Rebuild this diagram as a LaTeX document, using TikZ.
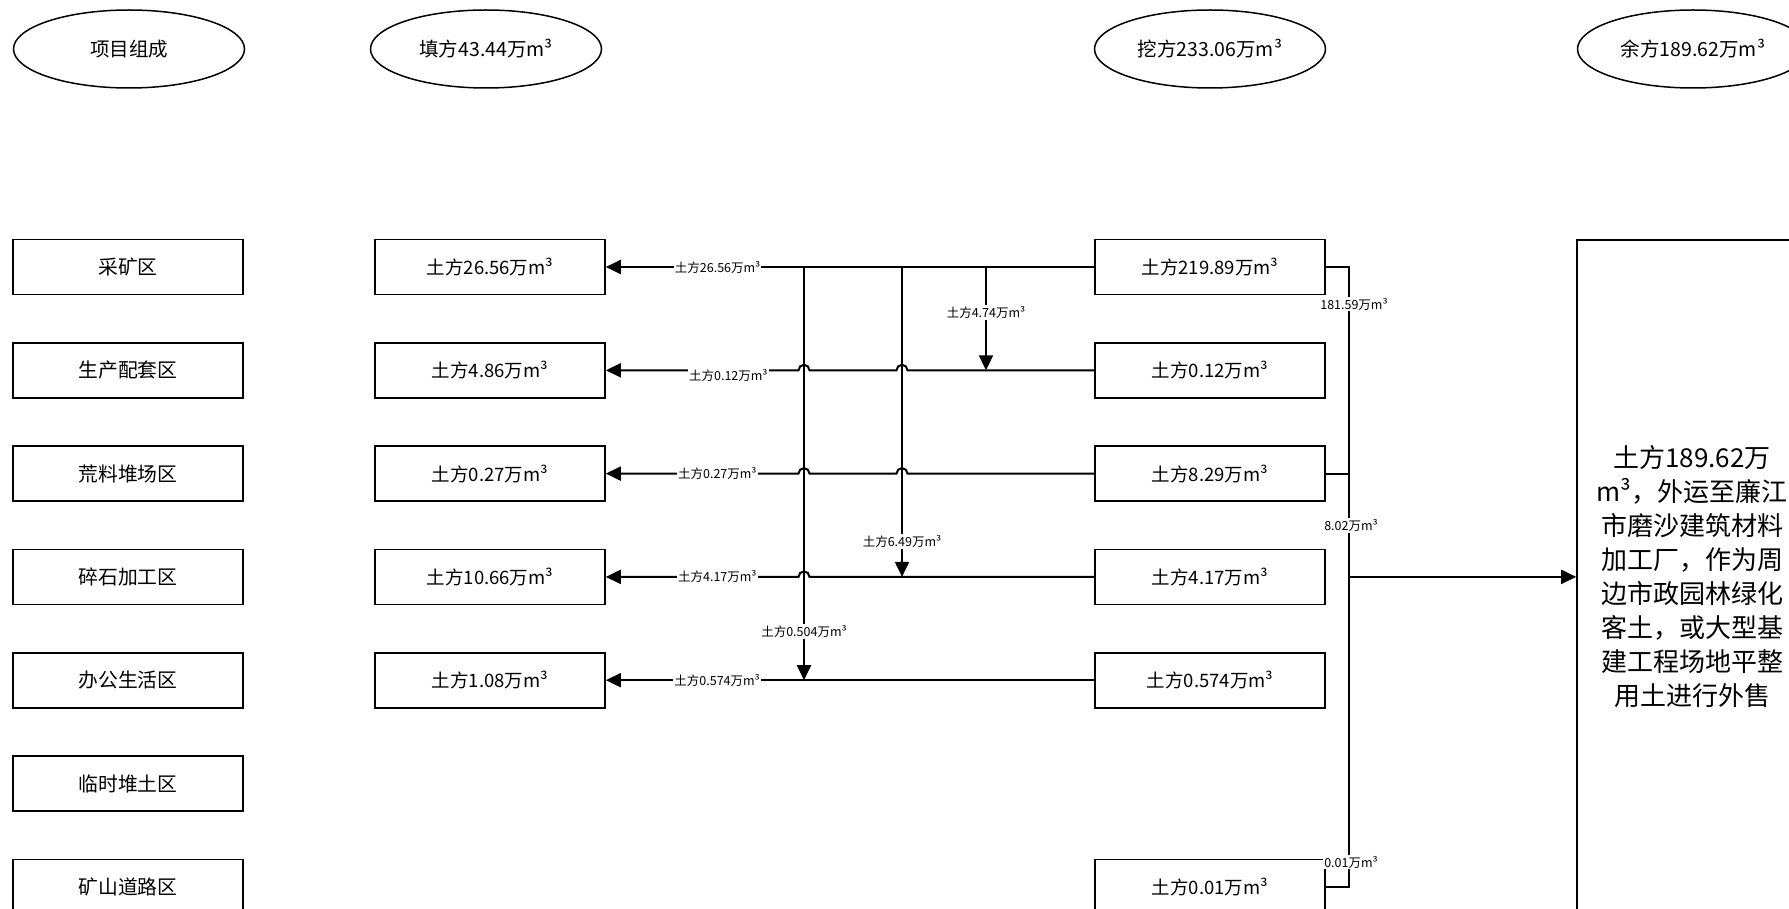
\documentclass[tikz,border=0pt]{standalone}
\usepackage{fontspec}
\setmainfont{Noto Sans CJK SC}
\usetikzlibrary{arrows.meta,calc,shapes.geometric}

\tikzset{
  zone/.style={draw,line width=1.6pt,minimum width=230pt,minimum height=55pt,
    font=\fontsize{18.5}{22}\selectfont},
  part/.style={zone,font=\fontsize{19.8}{23}\selectfont},
  hdr/.style={ellipse,draw,line width=1.5pt,minimum width=231pt,minimum height=78pt,
    font=\fontsize{19.5}{23}\selectfont},
  flow/.style={line width=2pt},
  arr/.style={-{Triangle[length=15pt,width=14pt]}},
  lab/.style={fill=white,inner sep=1pt,font=\fontsize{12.5}{14}\selectfont}
}

\begin{document}
\begin{tikzpicture}[x=1pt,y=-1pt]
\path[use as bounding box,clip] (0,0) rectangle (1789,909);

% 表头
\node[hdr] (HZ) at (129,49) {项目组成};
\node[hdr] (HF) at (486,49) {填方43.44万m³};
\node[hdr] (HW) at (1210,49) {挖方233.06万m³};
\node[hdr] (HY) at (1693,49) {余方189.62万m³};

% 项目组成
\node[part] (Z1) at (128,267) {采矿区};
\node[part] (Z2) at (128,370.3) {生产配套区};
\node[part] (Z3) at (128,473.6) {荒料堆场区};
\node[part] (Z4) at (128,576.9) {碎石加工区};
\node[part] (Z5) at (128,680.2) {办公生活区};
\node[part] (Z6) at (128,783.5) {临时堆土区};
\node[part] (Z7) at (128,886.8) {矿山道路区};

% 填方
\node[zone] (F1) at (490,267) {土方26.56万m³};
\node[zone] (F2) at (490,370.3) {土方4.86万m³};
\node[zone] (F3) at (490,473.6) {土方0.27万m³};
\node[zone] (F4) at (490,576.9) {土方10.66万m³};
\node[zone] (F5) at (490,680.2) {土方1.08万m³};

% 挖方
\node[zone] (W1) at (1210,267) {土方219.89万m³};
\node[zone] (W2) at (1210,370.3) {土方0.12万m³};
\node[zone] (W3) at (1210,473.6) {土方8.29万m³};
\node[zone] (W4) at (1210,576.9) {土方4.17万m³};
\node[zone] (W5) at (1210,680.2) {土方0.574万m³};
\node[zone] (W7) at (1210,886.8) {土方0.01万m³};

% 余方
\node[zone,minimum height=674pt,align=center,font=\fontsize{26}{34}\selectfont] (Y) at (1692,576.9)
  {土方189.62万\\m³，外运至廉江\\市磨沙建筑材料\\加工厂，作为周\\边市政园林绿化\\客土，或大型基\\建工程场地平整\\用土进行外售};

\coordinate (V1) at (804,267);
\coordinate (V2) at (902,267);
\coordinate (V3) at (986,267);
\coordinate (T1) at (1349,267);

% 调配
\draw[flow,arr] (W1.west) -- node[lab,pos=0.771] {土方26.56万m³} (F1.east);
\draw[flow,arr] (W2.west) -- ($(V2 |- W2.west)+(5.5,0)$) arc[start angle=0,end angle=180,radius=5.5pt]
  -- ($(V1 |- W2.west)+(5.5,0)$) arc[start angle=0,end angle=180,radius=5.5pt]
  -- node[lab,pos=0.364,yshift=-5pt] {土方0.12万m³} (F2.east);
\draw[flow,arr] (W3.west) -- ($(V2 |- W3.west)+(5.5,0)$) arc[start angle=0,end angle=180,radius=5.5pt]
  -- ($(V1 |- W3.west)+(5.5,0)$) arc[start angle=0,end angle=180,radius=5.5pt]
  -- node[lab,pos=0.421] {土方0.27万m³} (F3.east);
\draw[flow,arr] (W4.west) -- ($(V1 |- W4.west)+(5.5,0)$) arc[start angle=0,end angle=180,radius=5.5pt]
  -- node[lab,pos=0.421] {土方4.17万m³} (F4.east);
\draw[flow,arr] (W5.west) -- node[lab,pos=0.772] {土方0.574万m³} (F5.east);

\draw[flow,arr] (V1) -- node[lab,pos=0.882] {土方0.504万m³} (V1 |- F5.east);
\draw[flow,arr] (V2) -- node[lab,pos=0.886] {土方6.49万m³} (V2 |- F4.east);
\draw[flow,arr] (V3) -- node[lab,pos=0.441] {土方4.74万m³} (V3 |- W2.west);

% 外运
\draw[flow] (W1.east) -- (T1)
  -- node[lab,pos=0.06,xshift=5pt] {181.59万m³}
     node[lab,pos=0.417,xshift=2pt] {8.02万m³}
     node[lab,pos=0.96,xshift=2pt] {0.01万m³} (T1 |- W7.east) -- (W7.east);
\draw[flow] (W3.east) -- (T1 |- W3.east);
\draw[flow,arr] (T1 |- W4.east) -- (Y.west);
\end{tikzpicture}
\end{document}
